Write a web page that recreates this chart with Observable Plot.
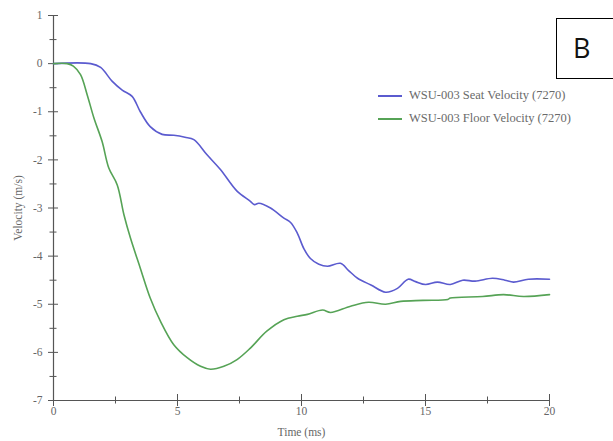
<!DOCTYPE html>
<html>
<head>
<meta charset="utf-8">
<script src="https://cdn.jsdelivr.net/npm/d3@7"></script>
<script src="https://cdn.jsdelivr.net/npm/@observablehq/plot@0.6"></script>
<style>
  body { margin: 0; background: #fff; }
  #wrap { position: relative; width: 613px; height: 441px; overflow: hidden; }
  #legend { position: absolute; left: 378px; top: 84px; font-family: "Liberation Serif", serif; font-size: 12.5px; color: #6a6a6a; }
  .row { display: flex; align-items: center; height: 23px; }
  .sw { width: 24px; height: 0; border-top: 2px solid; margin-right: 7px; }
  #boxB { position: absolute; left: 556px; top: 18px; width: 60px; height: 61px; border: 1px solid #000; box-sizing: border-box;
          font-family: "Open Sans", "Liberation Sans", sans-serif; font-size: 27px; line-height: 57px; padding-left: 16px; color: #111; }
</style>
</head>
<body>
<div id="wrap"></div>
<script>
const seatT = [0, 1.5, 1.9, 2.37, 2.77, 3.17, 3.5, 3.9, 4.38, 4.85, 5.3, 5.66, 6.2, 6.73, 7.4, 7.94, 8.1, 8.28, 8.75, 9.29, 9.56, 9.83, 10.1, 10.36, 10.7, 11.05, 11.57, 11.9, 12.26, 12.8, 13.39, 13.87, 14.3, 14.6, 15.0, 15.48, 16.0, 16.5, 17.0, 17.7, 18.2, 18.55, 19.15, 20];
const seatV = [0, 0, -0.08, -0.37, -0.55, -0.68, -1.0, -1.31, -1.47, -1.49, -1.53, -1.58, -1.9, -2.2, -2.65, -2.86, -2.93, -2.9, -3.0, -3.21, -3.3, -3.52, -3.85, -4.05, -4.17, -4.21, -4.15, -4.3, -4.46, -4.6, -4.75, -4.67, -4.48, -4.53, -4.59, -4.54, -4.59, -4.5, -4.52, -4.46, -4.5, -4.54, -4.48, -4.48];
const floorT = [0, 0.55, 0.8, 1.09, 1.36, 1.63, 1.96, 2.23, 2.57, 2.84, 3.1, 3.5, 3.9, 4.31, 4.85, 5.39, 5.93, 6.33, 6.87, 7.4, 7.94, 8.6, 9.29, 9.83, 10.24, 10.85, 11.17, 11.98, 12.7, 13.39, 14.0, 14.9, 15.9, 16.0, 17.3, 18.15, 18.95, 20];
const floorV = [0, 0, -0.05, -0.23, -0.65, -1.13, -1.62, -2.17, -2.52, -3.14, -3.62, -4.25, -4.87, -5.35, -5.84, -6.11, -6.29, -6.35, -6.29, -6.15, -5.91, -5.56, -5.32, -5.25, -5.21, -5.12, -5.17, -5.04, -4.96, -5.0, -4.94, -4.92, -4.9, -4.87, -4.84, -4.8, -4.84, -4.8];
const seriesNames = ["WSU-003 Seat Velocity (7270)", "WSU-003 Floor Velocity (7270)"];
const seriesColors = ["#5b5bcf", "#56a356"];
const xMajor = [0, 5, 10, 15, 20];
const xMinor = [2.5, 7.5, 12.5, 17.5];
const yMajor = [-7, -6, -5, -4, -3, -2, -1, 0, 1];
const yMinor = [-6.5, -5.5, -4.5, -3.5, -2.5, -1.5, -0.5, 0.5];
const panelLabel = "B";

const seat = seatT.map((t, i) => ({t, v: seatV[i]}));
const floor = floorT.map((t, i) => ({t, v: floorV[i]}));
const ax = "#555";
const blank = () => "";
const plain = d => String(d);

const chart = Plot.plot({
  width: 613, height: 441,
  marginLeft: 53, marginRight: 64, marginTop: 15, marginBottom: 41,
  style: {fontFamily: "'Liberation Serif', serif", fontSize: "11.5px", color: "#666", background: "transparent"},
  x: {domain: [0, 20]},
  y: {domain: [-7, 1]},
  marks: [
    Plot.ruleX([0], {stroke: ax, strokeWidth: 1.2}),
    Plot.ruleY([-7], {stroke: ax, strokeWidth: 1.2}),
    Plot.axisY(yMajor, {tickSize: 10, dx: 5, tickFormat: blank, label: null, stroke: ax}),
    Plot.axisY(yMinor, {tickSize: 7, dx: 3.5, tickFormat: blank, label: null, stroke: ax}),
    Plot.axisY(yMajor, {tickSize: 0, tickPadding: 11, tickFormat: plain, label: "Velocity (m/s)", labelArrow: "none", labelAnchor: "center", labelOffset: 40}),
    Plot.axisX(xMajor, {tickSize: 12, dy: -6, tickFormat: blank, label: null, stroke: ax}),
    Plot.axisX(xMinor, {tickSize: 7, dy: -3.5, tickFormat: blank, label: null, stroke: ax}),
    Plot.axisX(xMajor, {tickSize: 0, tickPadding: 6, tickFormat: plain, label: "Time (ms)", labelArrow: "none", labelAnchor: "center", labelOffset: 35}),
    Plot.line(seat, {x: "t", y: "v", stroke: seriesColors[0], strokeWidth: 1.6, curve: "catmull-rom"}),
    Plot.line(floor, {x: "t", y: "v", stroke: seriesColors[1], strokeWidth: 1.6, curve: "catmull-rom"})
  ]
});

const wrap = document.getElementById("wrap");
wrap.appendChild(chart);
const legend = document.createElement("div");
legend.id = "legend";
seriesNames.forEach((n, i) => {
  const row = document.createElement("div");
  row.className = "row";
  const sw = document.createElement("div");
  sw.className = "sw";
  sw.style.borderColor = seriesColors[i];
  const tx = document.createElement("span");
  tx.textContent = n;
  row.appendChild(sw); row.appendChild(tx);
  legend.appendChild(row);
});
wrap.appendChild(legend);
const box = document.createElement("div");
box.id = "boxB";
box.textContent = panelLabel;
wrap.appendChild(box);
</script>
</body>
</html>
